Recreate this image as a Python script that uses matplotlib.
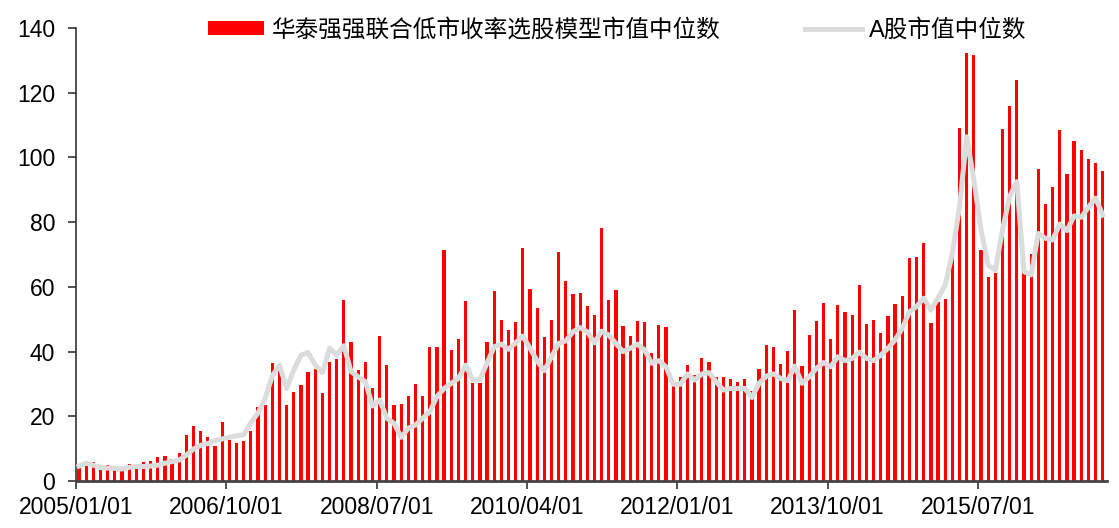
import numpy as np
import pandas as pd
import matplotlib
matplotlib.use('Agg')
import matplotlib.pyplot as plt

plt.rcParams['font.family'] = ['Liberation Sans', 'Noto Sans CJK SC']

months = pd.date_range('2005-01-01', periods=144, freq='MS')

model_cap = [
    3.9, 5.8, 5.8, 3.4, 4.9, 4.7, 3.4, 5.2, 5.4, 5.8, 6.1, 7.4, 7.6, 6.9, 8.6, 14.2,
    16.9, 15.5, 13.6, 10.8, 18.3, 12.7, 11.8, 12.5, 15.5, 22.9, 23.4, 36.6, 34.5,
    23.6, 27.6, 29.7, 33.7, 34.6, 27.1, 36.8, 37.8, 55.9, 43.0, 34.3, 36.7, 28.6,
    44.7, 36.0, 23.4, 23.8, 26.3, 29.9, 26.2, 41.4, 41.4, 71.4, 40.6, 44.0, 55.6,
    30.2, 30.2, 43.0,
    58.8, 49.7, 46.8, 49.1, 72.1, 59.4, 53.5, 44.5, 49.7, 70.8, 61.8, 57.8, 58.1,
    54.1, 51.3, 78.2, 55.9, 58.9, 48.0, 44.7, 49.4, 49.0, 39.5, 48.3, 47.7, 29.4,
    32.0, 35.9, 32.7,
    37.9, 36.9, 32.0, 32.2, 31.4, 30.6, 31.4, 27.9, 34.7, 42.0, 41.3, 36.2, 40.3,
    52.7, 35.5, 45.0, 49.4, 54.9, 43.9, 54.4, 52.2, 51.4, 60.6, 48.6, 49.8, 45.6,
    51.1, 54.7, 57.1,
    68.8, 69.1, 73.6, 48.7, 55.4, 56.1, 69.8, 109.2, 132.2, 131.6, 71.4, 62.9,
    64.2, 108.7, 115.9, 123.9, 64.2, 70.1, 96.4, 85.6, 90.9, 108.5, 94.8, 105.2,
    102.3, 99.4, 98.2, 95.9,
]

market_cap = [
    4.6, 5.5, 4.9, 4.2, 4.0, 3.9, 3.7, 4.2, 4.5, 4.5, 4.6, 4.9, 5.5, 6.0, 6.5, 8.0,
    9.9, 11.0, 11.6, 12.5, 13.0, 13.5, 14.0, 14.3, 18.0, 21.0, 25.5, 32.5, 35.8,
    28.6, 34.3, 38.9, 39.7, 35.8, 33.5, 41.0, 38.9, 41.8, 33.8, 32.2, 30.7, 23.2,
    25.0, 19.4, 17.8, 13.5, 16.3, 17.3, 19.4, 21.4, 26.1, 28.6, 30.2, 31.7, 35.8,
    31.2, 31.2, 36.5,
    41.5, 42.3, 40.7, 42.7, 44.8, 41.0, 37.1, 34.1, 38.4, 42.5, 43.3, 46.1, 47.4,
    46.1, 42.7, 46.3, 45.1, 42.5, 40.0, 41.0, 42.3, 40.5, 36.4, 37.2, 35.3, 29.9,
    29.9, 33.1, 31.2,
    33.1, 33.5, 30.7, 28.1, 28.6, 28.6, 28.6, 25.8, 30.2, 32.4, 33.1, 31.7, 31.0,
    35.5, 30.2, 32.2, 34.8, 36.6, 35.3, 38.4, 37.2, 37.9, 39.8, 37.9, 37.2, 38.9,
    41.0, 43.6, 47.2,
    52.3, 53.9, 56.5, 52.8, 56.5, 60.6, 70.4, 84.8, 106.4, 93.0, 77.6, 66.7, 65.2,
    77.6, 87.9, 92.5, 64.7, 63.7, 76.5, 75.0, 74.5, 79.4, 77.4, 81.9, 81.5, 84.6,
    87.4, 82.2,
]

tick_labels = ['2005/01/01', '2006/10/01', '2008/07/01', '2010/04/01',
               '2012/01/01', '2013/10/01', '2015/07/01']

x = np.arange(len(months))

fig = plt.figure(figsize=(11.19, 5.28), dpi=100)
ax = fig.add_axes([76 / 1119, 47 / 528, 1031 / 1119, 453 / 528])

bars = ax.bar(x, model_cap, width=0.45, color='#ff0000',
              label='华泰强强联合低市收率选股模型市值中位数', zorder=2)
line, = ax.plot(x, market_cap, color='#dcdcdc', lw=3.6, solid_joinstyle='round',
                label='A股市值中位数', zorder=3)

ax.set_xlim(-0.42, 143.6)
ax.set_ylim(0, 140)
ax.set_yticks(range(0, 141, 20))
ax.set_xticks(np.arange(0, 144, 21) - 0.42)
ax.set_xticklabels(tick_labels)

for s in ['top', 'right']:
    ax.spines[s].set_visible(False)
ax.spines['left'].set_color('#333333')
ax.spines['left'].set_linewidth(1.2)
ax.spines['bottom'].set_color('#444444')
ax.spines['bottom'].set_linewidth(2.0)

ax.tick_params(axis='y', direction='out', length=6, width=1.2, color='#333333',
               labelsize=16.5, pad=9)
ax.tick_params(axis='x', direction='out', length=6, width=1.2, color='#333333',
               labelsize=16.5, pad=5)

ax.legend(handles=[bars, line], loc='center left',
          bbox_to_anchor=(196 / 1119, 1 - 30 / 528),
          bbox_transform=fig.transFigure, ncol=2, frameon=False, fontsize=17,
          borderpad=0, handlelength=2.4, handleheight=0.5, handletextpad=0.3,
          columnspacing=3.6)

fig.savefig('out.png', dpi=100)
